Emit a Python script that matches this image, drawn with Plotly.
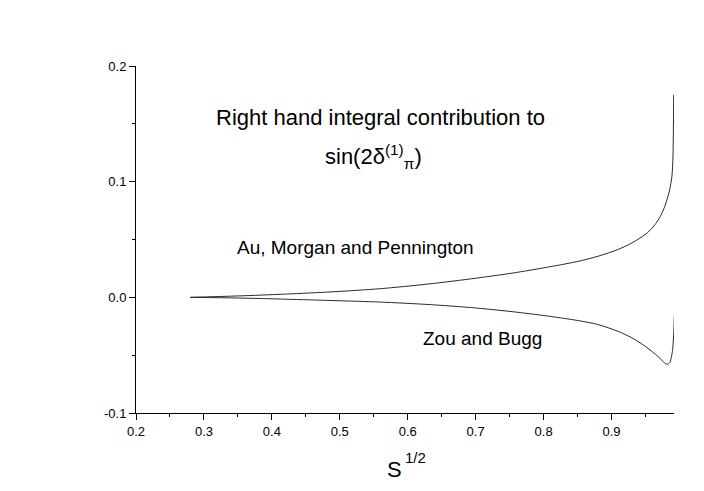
import plotly.graph_objects as go

# Au, Morgan and Pennington curve
x_amp = [0.28, 0.35, 0.42, 0.49, 0.56, 0.63, 0.70, 0.76, 0.81, 0.85, 0.88,
         0.91, 0.93, 0.95, 0.96, 0.97, 0.977, 0.982, 0.986, 0.989, 0.9905, 0.9915]
y_amp = [0.0, 0.0012, 0.0028, 0.0048, 0.0075, 0.0115, 0.0165, 0.0215, 0.0265, 0.031, 0.0355,
         0.0415, 0.047, 0.0545, 0.060, 0.068, 0.0765, 0.085, 0.094, 0.105, 0.122, 0.175]

# Zou and Bugg curve
x_zb = [0.28, 0.35, 0.42, 0.49, 0.56, 0.63, 0.70, 0.76, 0.81, 0.85, 0.88, 0.91,
        0.93, 0.95, 0.96, 0.97, 0.976, 0.980, 0.983, 0.986, 0.988, 0.990, 0.9915, 0.9925]
y_zb = [0.0, -0.0006, -0.0016, -0.0028, -0.0041, -0.0062, -0.0092, -0.0128, -0.0165,
        -0.020, -0.0235, -0.0295, -0.035, -0.0425, -0.047, -0.052, -0.0555, -0.0575,
        -0.0578, -0.056, -0.052, -0.045, -0.032, -0.016]

x_ticks = [0.2, 0.3, 0.4, 0.5, 0.6, 0.7, 0.8, 0.9]
x_ticktext = ["0.2", "0.3", "0.4", "0.5", "0.6", "0.7", "0.8", "0.9"]
y_ticks = [-0.1, 0.0, 0.1, 0.2]
y_ticktext = ["-0.1", "0.0", "0.1", "0.2"]

FONT = "Liberation Sans, Arial, sans-serif"
LINE = "#2a2a2a"

fig = go.Figure()
fig.add_trace(go.Scatter(x=x_amp, y=y_amp, mode="lines",
                         line=dict(color=LINE, width=1, shape="spline", smoothing=0.8),
                         showlegend=False, hoverinfo="skip"))
fig.add_trace(go.Scatter(x=x_zb, y=y_zb, mode="lines",
                         line=dict(color=LINE, width=1, shape="spline", smoothing=0.8),
                         showlegend=False, hoverinfo="skip"))

axis_common = dict(
    showgrid=False, zeroline=False, showline=True, linecolor="black", linewidth=1,
    ticks="outside", ticklen=6, tickwidth=1, tickcolor="black",
    tickfont=dict(family=FONT, size=13, color="black"),
)

fig.update_xaxes(range=[0.2, 0.992], tickmode="array", tickvals=x_ticks, ticktext=x_ticktext,
                 minor=dict(ticks="outside", ticklen=3, dtick=0.05, tick0=0.2, tickcolor="black"),
                 **axis_common)
fig.update_yaxes(range=[-0.1, 0.2], tickmode="array", tickvals=y_ticks, ticktext=y_ticktext,
                 minor=dict(ticks="outside", ticklen=3, dtick=0.05, tick0=-0.1, tickcolor="black"),
                 **axis_common)


def label(text, x, y, size, xanchor="center"):
    fig.add_annotation(x=x, y=y, xref="paper", yref="paper", showarrow=False,
                       xanchor=xanchor, yanchor="middle", text=text,
                       font=dict(family=FONT, size=size, color="black"))


# text labels inside the plot
label("Right hand integral contribution to", 0.4545, 0.853, 22)
label("sin(2δ<sup>(1)</sup><sub>π</sub>)", 0.4414, 0.738, 22)
label("Au, Morgan and Pennington", 0.4071, 0.478, 19)
label("Zou and Bugg", 0.644, 0.216, 19)

# x axis title: S with a raised 1/2
label("S", 0.4796, -0.164, 22)
label("1/2", 0.4963, -0.128, 15, xanchor="left")

# page body has an 8px margin, so the figure is 16px smaller than the window
fig.update_layout(
    width=688, height=475,
    margin=dict(l=128, r=22, t=58, b=70),
    plot_bgcolor="white", paper_bgcolor="white",
)

fig.write_html("out.html")
